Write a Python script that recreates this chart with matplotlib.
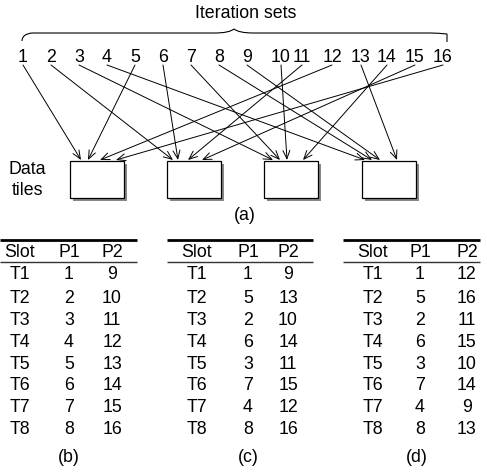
import matplotlib
matplotlib.use("Agg")
import matplotlib.pyplot as plt
from matplotlib.patches import Rectangle, FancyArrowPatch
from matplotlib.path import Path
from matplotlib.patches import PathPatch

plt.rcParams['font.family'] = ['Liberation Sans', 'DejaVu Sans']

# ---- data ----
iteration_sets = [str(i) for i in range(1, 17)]
tile_of_set = [1, 2, 3, 4, 1, 2, 3, 4, 4, 3, 2, 1, 4, 3, 2, 1]
slots = ["T1", "T2", "T3", "T4", "T5", "T6", "T7", "T8"]
b_p1 = [1, 2, 3, 4, 5, 6, 7, 8]
b_p2 = [9, 10, 11, 12, 13, 14, 15, 16]
c_p1 = [1, 5, 2, 6, 3, 7, 4, 8]
c_p2 = [9, 13, 10, 14, 11, 15, 12, 16]
d_p1 = [1, 5, 2, 6, 3, 7, 4, 8]
d_p2 = [12, 16, 11, 15, 10, 14, 9, 13]
table_labels = ["(b)", "(c)", "(d)"]

# ---- layout ----
W, H = 487, 473
fig = plt.figure(figsize=(W / 100, H / 100), dpi=100)
ax = fig.add_axes([0, 0, 1, 1])
ax.set_xlim(0, W)
ax.set_ylim(H, 0)
ax.axis('off')

FS = 12.8
set_x = [23, 51, 79, 107, 135, 163, 191, 219, 247, 281, 302, 332, 361, 387, 415, 443]
box_left = [70, 167, 264, 362]
box_w, box_top, box_h = 54, 161, 37
arrive_off = {1: [11, 18, 30, 46], 2: [6, 11, 21, 35], 3: [9, 16, 23, 39], 4: [3, 10, 18, 35]}

ax.text(246, 13, "Iteration sets", ha='center', va='center', fontsize=FS)

# brace
verts = [(22, 41), (22, 34), (32, 33), (40, 33), (215, 33), (229, 33), (234, 29),
         (239, 33), (253, 33), (430, 33), (438, 33), (447, 34), (447, 42)]
codes = [Path.MOVETO, Path.CURVE3, Path.CURVE3, Path.LINETO, Path.LINETO, Path.CURVE3, Path.CURVE3,
         Path.CURVE3, Path.CURVE3, Path.LINETO, Path.CURVE3, Path.CURVE3, Path.LINETO]
ax.add_patch(PathPatch(Path(verts, codes), fill=False, lw=0.8, color='black'))

for x, lab in zip(set_x, iteration_sets):
    ax.text(x, 57, lab, ha='center', va='center', fontsize=FS)

# boxes
for bl in box_left:
    ax.add_patch(Rectangle((bl + 3, box_top + 3), box_w, box_h, facecolor='#888888', edgecolor='none'))
    ax.add_patch(Rectangle((bl, box_top), box_w, box_h, facecolor='white', edgecolor='black', lw=0.9))

# arrows
per_tile = {t: [i for i in range(16) if tile_of_set[i] == t] for t in range(1, 5)}
for t in range(1, 5):
    for k, i in enumerate(per_tile[t]):
        xe = box_left[t - 1] + arrive_off[t][k]
        ax.add_patch(FancyArrowPatch((set_x[i], 65), (xe, box_top - 1),
                                     arrowstyle='->,head_length=6,head_width=2.5',
                                     lw=0.7, color='black', shrinkA=0, shrinkB=0,
                                     mutation_scale=1))

ax.text(27, 169, "Data", ha='center', va='center', fontsize=FS)
ax.text(27, 190, "tiles", ha='center', va='center', fontsize=FS)
ax.text(245, 215, "(a)", ha='center', va='center', fontsize=FS)

# tables
tables = [(b_p1, b_p2), (c_p1, c_p2), (d_p1, d_p2)]
line_x = [(0, 137), (167, 313), (343, 480)]
col_x = [(20, 69, 112), (197, 248, 288), (373, 420, 467)]
lab_x = [69, 248, 417]
row_y = [274, 298, 320, 342, 364, 385, 407, 429]
for (p1, p2), (x0, x1), cx, lx, lab in zip(tables, line_x, col_x, lab_x, table_labels):
    ax.plot([x0, x1], [240, 240], color='black', lw=2.0, solid_capstyle='butt')
    ax.plot([x0, x1], [262, 262], color='#333333', lw=1.0, solid_capstyle='butt')
    for hx, h in zip(cx, ["Slot", "P1", "P2"]):
        ax.text(hx, 252, h, ha='center', va='center', fontsize=FS)
    for y, s, a, b in zip(row_y, slots, p1, p2):
        ax.text(cx[0], y, s, ha='center', va='center', fontsize=FS)
        ax.text(cx[1], y, str(a), ha='center', va='center', fontsize=FS)
        ax.text(cx[2], y, str(b), ha='center', va='center', fontsize=FS)
    ax.text(lx, 457, lab, ha='center', va='center', fontsize=FS)

fig.savefig("out.png", dpi=100)
